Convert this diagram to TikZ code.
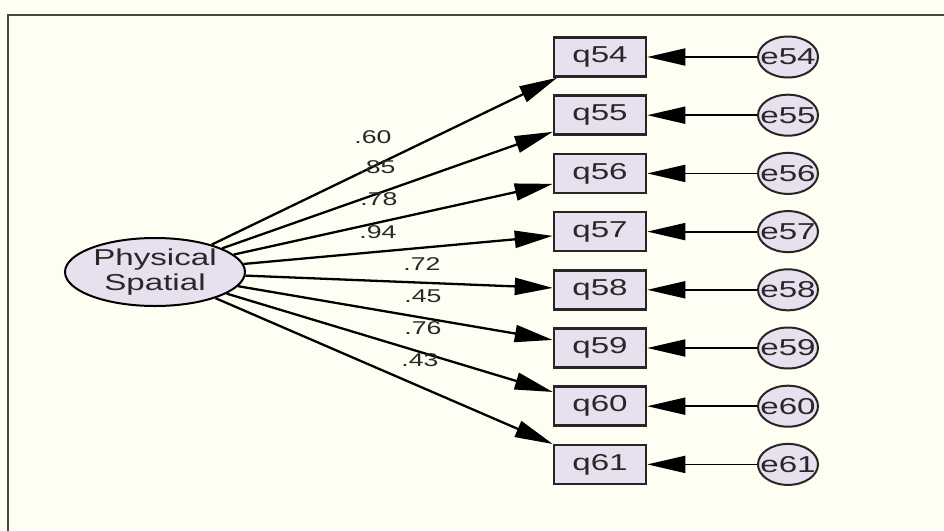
\documentclass[tikz,border=0pt]{standalone}
\usepackage{fontspec}
\usepackage{graphicx}
\setmainfont{Liberation Sans}
\usetikzlibrary{shapes.geometric,arrows.meta}
\definecolor{bgc}{RGB}{255,254,242}
\definecolor{fillc}{RGB}{232,224,238}
\definecolor{txt}{RGB}{40,40,40}
\definecolor{framec}{RGB}{70,70,66}
\newcommand{\wt}[1]{\scalebox{1.44}[1]{#1}}
\begin{document}
\begin{tikzpicture}[x=1pt,y=-1pt,
  latent/.style={ellipse,draw=black,line width=2pt,fill=fillc,minimum width=180pt,minimum height=68pt,inner sep=0pt,align=center,font=\fontsize{23}{25}\selectfont,text=txt},
  obs/.style={rectangle,draw=black!85,line width=2.5pt,fill=fillc,minimum width=92pt,minimum height=39pt,inner sep=0pt,font=\fontsize{23}{24}\selectfont,text=txt},
  err/.style={ellipse,draw=black!85,line width=2pt,fill=fillc,minimum width=60pt,minimum height=41pt,inner sep=0pt,font=\fontsize{23}{24}\selectfont,text=txt},
  load/.style={line width=2.3pt,-{Triangle[length=38pt,width=17pt]}},
  erra/.style={line width=1.8pt,-{Triangle[length=38pt,width=17pt]}},
  lab/.style={font=\fontsize{18.5}{19}\selectfont,text=txt,inner sep=0pt}]
\fill[bgc] (0,0) rectangle (944,530);
\useasboundingbox (0,0) rectangle (944,530);
\draw[framec,line width=2pt] (8,532) -- (8,14.5) -- (946,14.5);
\node[latent] (ps) at (155,272) {\wt{Physical}\\\wt{Spatial}};
\foreach \n [count=\i from 0] in {54,55,56,57,58,59,60,61}{
  \node[obs] (q\n) at (600,57+58.2*\i) {\wt{q\n}};
  \node[err] (e\n) at (788,57+58.2*\i) {\makebox[0pt]{\wt{e\n}}};
  \draw[erra] (e\n) -- (q\n);
  \draw[load] (ps) -- (q\n);
}
\node[lab] (l54) at (373,137) {\wt{.60}};
\node[lab] (l55) at (377,167) {\wt{.85}};
\node[lab] (l56) at (379,199) {\wt{.78}};
\node[lab] (l57) at (378,232) {\wt{.94}};
\node[lab] (l58) at (422,264) {\wt{.72}};
\node[lab] (l59) at (423,296) {\wt{.45}};
\node[lab] (l60) at (423,328) {\wt{.76}};
\node[lab] (l61) at (420,360) {\wt{.43}};
\end{tikzpicture}
\end{document}
